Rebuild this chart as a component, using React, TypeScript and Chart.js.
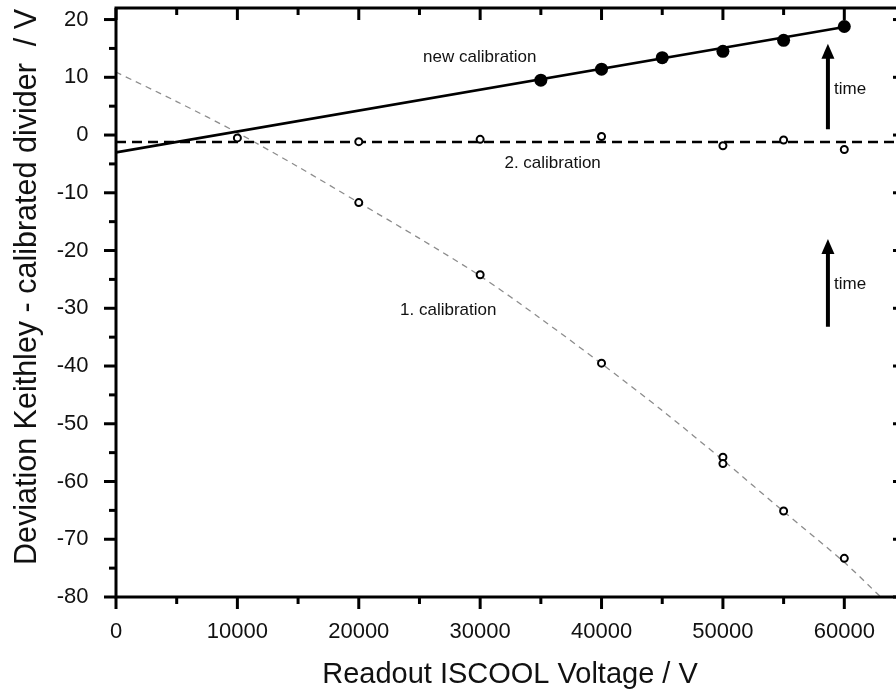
import { useEffect, useRef } from 'react';
import { Chart, registerables } from 'chart.js';

Chart.register(...registerables);

const FONT = '"Liberation Sans", Arial, Helvetica, sans-serif';

// New calibration: measured points and the straight-line fit through them
const newCalX = [35000, 40000, 45000, 50000, 55000, 60000];
const newCalY = [9.5, 11.4, 13.4, 14.5, 16.4, 18.8];
const newFitX = [0, 60000];
const newFitY = [-3.0, 18.7];

// 2. calibration: measured points and the constant offset line
const cal2X = [10000, 20000, 30000, 40000, 50000, 55000, 60000];
const cal2Y = [-0.5, -1.15, -0.75, -0.25, -1.85, -0.85, -2.5];
const cal2LineX = [0, 65000];
const cal2LineY = [-1.2, -1.2];

// 1. calibration: measured points and the fitted curve
const cal1X = [20000, 30000, 40000, 50000, 50000, 55000, 60000];
const cal1Y = [-11.7, -24.2, -39.5, -55.8, -56.9, -65.1, -73.3];
const cal1CurveX = [0, 5000, 10000, 15000, 20000, 25000, 30000, 35000, 40000, 45000, 50000, 55000, 60000, 63000];
const cal1CurveY = [10.9, 5.8, 0.4, -5.5, -11.7, -17.9, -24.4, -31.8, -39.6, -47.7, -56.3, -65.2, -74.0, -80.0];

// Axis ticks
const xMajorTicks = [0, 10000, 20000, 30000, 40000, 50000, 60000];
const xMinorTicks = [5000, 15000, 25000, 35000, 45000, 55000];
const yMajorTicks = [-80, -70, -60, -50, -40, -30, -20, -10, 0, 10, 20];
const yMinorTicks = [-75, -65, -55, -45, -35, -25, -15, -5, 5, 15];

const toPoints = (xs: number[], ys: number[]) => xs.map((x, i) => ({ x, y: ys[i] }));

// Text labels and "time" arrows placed in data coordinates
const notes = [
  { text: 'new calibration', x: 25300, y: 12.6 },
  { text: '2. calibration', x: 32000, y: -5.7 },
  { text: '1. calibration', x: 23400, y: -31.2 },
  { text: 'time', x: 59150, y: 7.1 },
  { text: 'time', x: 59150, y: -26.7 },
];
const arrows = [
  { x: 58650, from: 1.0, to: 15.8 },
  { x: 58650, from: -33.2, to: -18.0 },
];

// keep the plot box exactly where the layout puts it
const noScalePadding = (s: any) => {
  s.paddingTop = 0;
  s.paddingBottom = 0;
  s.paddingLeft = 0;
  s.paddingRight = 0;
};

const framePlugin = {
  id: 'frameAndNotes',
  afterDraw(chart: any) {
    const { ctx, chartArea: a, scales } = chart;
    const xs = scales.x;
    const ys = scales.y;
    ctx.save();
    ctx.strokeStyle = '#000';
    ctx.fillStyle = '#000';
    ctx.lineCap = 'butt';

    // tick marks: outward on bottom/left, inward on top/right
    ctx.lineWidth = 3;
    const tick = (x1: number, y1: number, x2: number, y2: number) => {
      ctx.beginPath();
      ctx.moveTo(x1, y1);
      ctx.lineTo(x2, y2);
      ctx.stroke();
    };
    const MAJ = 12;
    const MIN = 7;
    xMajorTicks.forEach((v) => {
      const p = xs.getPixelForValue(v);
      tick(p, a.bottom, p, a.bottom + MAJ);
      tick(p, a.top, p, a.top + MAJ);
    });
    xMinorTicks.forEach((v) => {
      const p = xs.getPixelForValue(v);
      tick(p, a.bottom, p, a.bottom + MIN);
      tick(p, a.top, p, a.top + MIN);
    });
    yMajorTicks.forEach((v) => {
      const p = ys.getPixelForValue(v);
      tick(a.left, p, a.left - MAJ, p);
      tick(a.right, p, a.right - MAJ, p);
    });
    yMinorTicks.forEach((v) => {
      const p = ys.getPixelForValue(v);
      tick(a.left, p, a.left - MIN, p);
      tick(a.right, p, a.right - MIN, p);
    });

    // frame
    ctx.lineWidth = 3;
    ctx.strokeRect(a.left, a.top, a.right - a.left, a.bottom - a.top);

    // arrows
    arrows.forEach((ar) => {
      const x = xs.getPixelForValue(ar.x);
      const y0 = ys.getPixelForValue(ar.from);
      const y1 = ys.getPixelForValue(ar.to);
      const head = 15;
      ctx.lineWidth = 4;
      ctx.beginPath();
      ctx.moveTo(x, y0);
      ctx.lineTo(x, y1 + head - 1);
      ctx.stroke();
      ctx.beginPath();
      ctx.moveTo(x, y1);
      ctx.lineTo(x - 6.5, y1 + head);
      ctx.lineTo(x + 6.5, y1 + head);
      ctx.closePath();
      ctx.fill();
    });

    // annotation texts
    ctx.fillStyle = '#111';
    ctx.font = `17px ${FONT}`;
    ctx.textAlign = 'left';
    ctx.textBaseline = 'alphabetic';
    notes.forEach((n) => {
      ctx.fillText(n.text, xs.getPixelForValue(n.x), ys.getPixelForValue(n.y));
    });

    // axis titles
    ctx.font = `29px ${FONT}`;
    ctx.textAlign = 'center';
    ctx.fillText('Readout ISCOOL Voltage / V', 510, 683);
    ctx.save();
    ctx.translate(36, 287);
    ctx.rotate(-Math.PI / 2);
    ctx.font = `30.5px ${FONT}`;
    ctx.fillText('Deviation Keithley - calibrated divider  / V', 0, 0);
    ctx.restore();

    ctx.restore();
  },
};

export default function App() {
  const ref = useRef<HTMLCanvasElement | null>(null);

  useEffect(() => {
    if (!ref.current) return;
    const chart = new Chart(ref.current, {
      type: 'scatter',
      data: {
        datasets: [
          {
            label: 'new calibration',
            data: toPoints(newCalX, newCalY),
            pointRadius: 6.5,
            pointBackgroundColor: '#000',
            pointBorderColor: '#000',
            pointBorderWidth: 0,
            showLine: false,
            order: 0,
          },
          {
            label: '2. calibration',
            data: toPoints(cal2X, cal2Y),
            pointRadius: 3.5,
            pointBackgroundColor: '#fff',
            pointBorderColor: '#000',
            pointBorderWidth: 2,
            showLine: false,
            order: 0,
          },
          {
            label: '1. calibration',
            data: toPoints(cal1X, cal1Y),
            pointRadius: 3.5,
            pointBackgroundColor: '#fff',
            pointBorderColor: '#000',
            pointBorderWidth: 2,
            showLine: false,
            order: 0,
          },
          {
            label: 'new calibration fit',
            data: toPoints(newFitX, newFitY),
            showLine: true,
            borderColor: '#000',
            borderWidth: 2.6,
            pointRadius: 0,
            order: 1,
          },
          {
            label: '2. calibration offset',
            data: toPoints(cal2LineX, cal2LineY),
            showLine: true,
            borderColor: '#000',
            borderWidth: 2.4,
            borderDash: [10, 6],
            pointRadius: 0,
            order: 1,
          },
          {
            label: '1. calibration fit',
            data: toPoints(cal1CurveX, cal1CurveY),
            showLine: true,
            borderColor: '#8c8c8c',
            borderWidth: 1.3,
            borderDash: [6, 5],
            tension: 0.3,
            pointRadius: 0,
            order: 1,
          },
        ],
      },
      options: {
        responsive: false,
        devicePixelRatio: 1,
        animation: false,
        layout: { padding: { top: 8, right: 7, left: 0, bottom: 0 } },
        plugins: {
          legend: { display: false },
          tooltip: { enabled: false },
        },
        scales: {
          x: {
            type: 'linear',
            min: 0,
            max: 65000,
            grid: { display: false },
            border: { display: false },
            afterFit: (s: any) => {
              s.height = 95;
              noScalePadding(s);
            },
            ticks: {
              stepSize: 5000,
              includeBounds: false,
              autoSkip: false,
              maxRotation: 0,
              padding: 14,
              color: '#111',
              font: { family: FONT, size: 22 },
              callback: (v: any) => (Number(v) % 10000 === 0 ? String(v) : ''),
            },
          },
          y: {
            type: 'linear',
            min: -80,
            max: 22,
            grid: { display: false },
            border: { display: false },
            afterFit: (s: any) => {
              s.width = 116;
              noScalePadding(s);
            },
            ticks: {
              stepSize: 5,
              includeBounds: false,
              autoSkip: false,
              padding: 19.5,
              color: '#111',
              font: { family: FONT, size: 22 },
              callback: (v: any) => (Number(v) % 10 === 0 ? String(v) : ''),
            },
          },
        },
      },
      plugins: [framePlugin],
    });
    return () => chart.destroy();
  }, []);

  return (
    <div
      style={{
        position: 'fixed',
        left: 0,
        top: 0,
        width: 896,
        height: 692,
        overflow: 'hidden',
        background: '#fff',
      }}
    >
      <canvas ref={ref} width={912} height={692} style={{ display: 'block' }} />
    </div>
  );
}
